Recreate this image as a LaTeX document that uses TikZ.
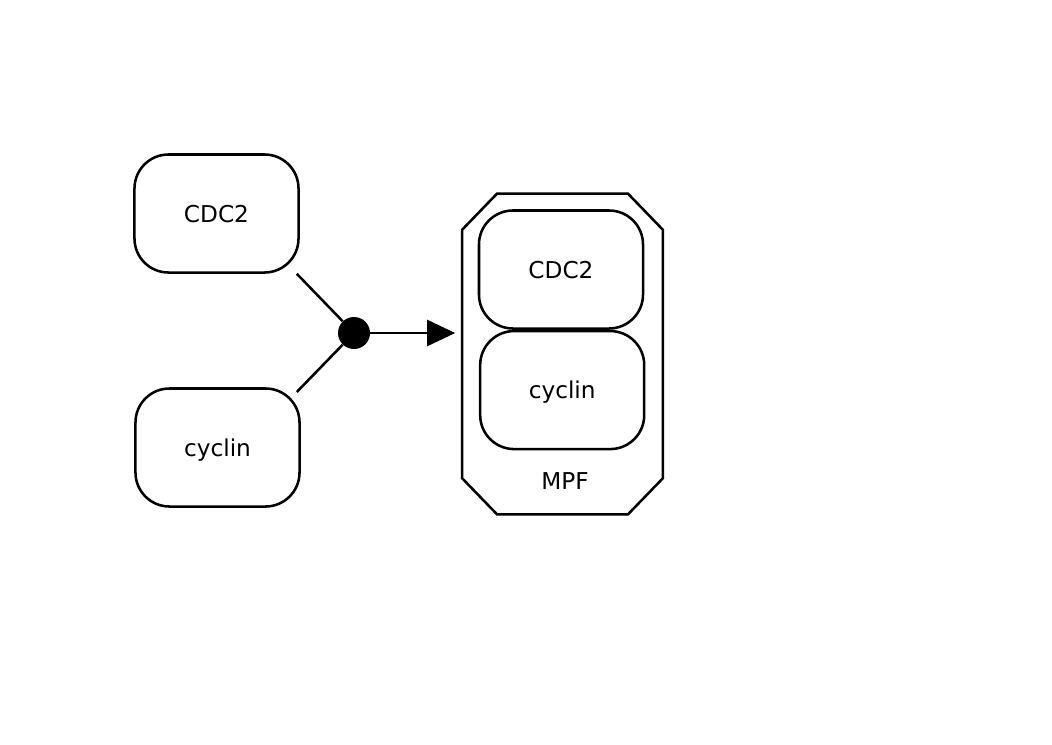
\documentclass[tikz,border=0pt]{standalone}
\usepackage{fontspec}
\setmainfont{DejaVu Sans}
\usepackage{tikz}
\usetikzlibrary{arrows.meta, positioning}
\tikzset{
  species/.style={draw,line width=1.8pt,rounded corners=0.85cm,minimum width=4.1cm,minimum height=2.95cm,inner sep=0pt,text depth=0pt,font=\fontsize{16.5}{20}\selectfont},
  complex/.style={minimum width=5cm,minimum height=8cm,inner sep=0pt},
  assoc/.style={circle,fill=black,minimum size=0.8cm,inner sep=0pt},
  con/.style={line width=1.8pt},
  to/.style={con,-{Triangle[length=0.7cm,width=0.65cm]},shorten >=0.175cm},
}
\begin{document}
\begin{tikzpicture}[x=0.025cm,y=-0.025cm]
    \useasboundingbox (0,0) rectangle (1052,744);

    % reactants
    \node [species] (cdc2) at (216.5,213.5) {CDC2};
    \node [species] (cyclin) at (217.5,447.5) {cyclin};

    % product: the MPF complex
    \node [complex] (mpf) at (562.5,354) {};
    \draw [con] ([xshift=0.87cm]mpf.north west) -- ([xshift=-0.87cm]mpf.north east)
      -- ([yshift=-0.9cm]mpf.north east) -- ([yshift=0.9cm]mpf.south east)
      -- ([xshift=-0.87cm]mpf.south east) -- ([xshift=0.87cm]mpf.south west)
      -- ([yshift=0.9cm]mpf.south west) -- ([yshift=-0.9cm]mpf.north west) -- cycle;
    \node [species] (mpfcdc2) at (561,269.5) {CDC2};
    \node [species, below=0pt of mpfcdc2, xshift=0.03cm] (mpfcyclin) {cyclin};
    \node [font=\fontsize{16.5}{20}\selectfont] (mpflabel) at (565,481) {MPF};

    % association
    \node [assoc] (dot) at (354,333) {};
    \draw [con] ([xshift=-0.075cm]cdc2.south east) -- (dot);
    \draw [con] ([xshift=-0.1cm,yshift=-0.12cm]cyclin.north east) -- (dot);
    \draw [to] (dot) -- (mpf.west |- dot);
\end{tikzpicture}
\end{document}
